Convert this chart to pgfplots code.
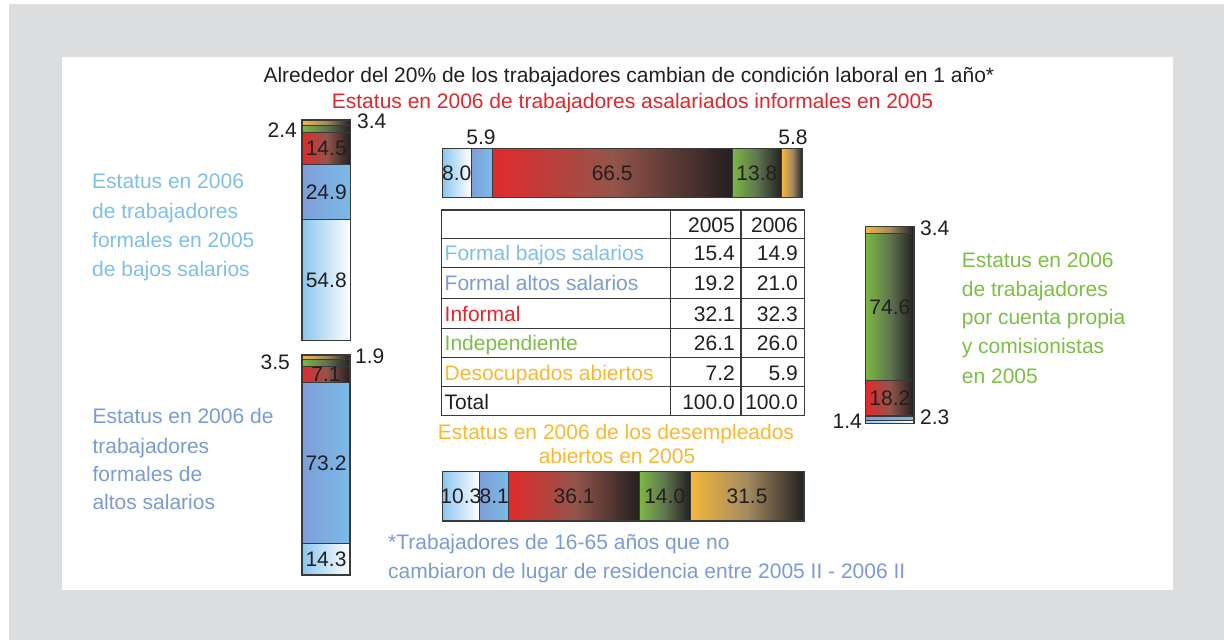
\documentclass[border=0pt]{standalone}
\usepackage{fontspec}
\setmainfont{Liberation Sans}
\usepackage{pgfplots}
\pgfplotsset{compat=1.18}
\definecolor{bg}{HTML}{DCDDDF}
\definecolor{ink}{HTML}{231F20}
\definecolor{tlb}{HTML}{7EC0EA}
\definecolor{tmb}{HTML}{7B9BD6}
\definecolor{tred}{HTML}{E3262C}
\definecolor{tgr}{HTML}{7DBF45}
\definecolor{tyl}{HTML}{F8B932}
\definecolor{blb}{HTML}{8BC6EE}
\definecolor{bmbA}{HTML}{7E9ED8}
\definecolor{bmbB}{HTML}{7BBBE8}
\definecolor{bred}{HTML}{E12A2C}
\definecolor{bredm}{HTML}{94554A}
\definecolor{bgr}{HTML}{7CB842}
\definecolor{bgrm}{HTML}{5F7550}
\definecolor{byl}{HTML}{F4B83A}
\definecolor{bylm}{HTML}{A38A60}
\definecolor{bdk}{HTML}{231F20}
\definecolor{edge}{HTML}{3A3A3A}
\newcommand\tf{\fontsize{21}{25}\selectfont}
\newcommand\tl[4]{\node[anchor=base west,text=#1,font=\tf,inner sep=0pt] at (#2,#3) {#4};}
\newcommand\tr[4]{\node[anchor=base east,text=#1,font=\tf,inner sep=0pt] at (#2,#3) {#4};}
\newcommand\tc[4]{\node[anchor=base,text=#1,font=\tf,inner sep=0pt] at (#2,#3) {#4};}
\pgfplotsset{
  segLB/.style={draw=edge, line width=1.1pt, left color=blb, right color=white},
  segMB/.style={draw=edge, line width=1.1pt, left color=bmbA, right color=bmbB},
  segRD/.style={draw=edge, line width=1.1pt, left color=bred, right color=bdk, middle color=bredm},
  segGR/.style={draw=edge, line width=1.1pt, left color=bgr, right color=bdk, middle color=bgrm},
  segYL/.style={draw=edge, line width=1.1pt, left color=byl, right color=bdk, middle color=bylm},
  lbl/.style={nodes near coords, point meta=explicit symbolic,
    every node near coord/.append style={font=\tf, text=ink, inner sep=0pt}},
  vbar/.style={scale only axis, hide axis, ybar stacked, anchor=south west,
    xmin=-0.5, xmax=0.5, ymin=0, ymax=100, bar width=1, clip=false},
  hbar/.style={scale only axis, hide axis, xbar stacked, anchor=south west,
    ymin=-0.5, ymax=0.5, xmin=0, xmax=100, bar width=1, clip=false},
}
\begin{document}
\begin{tikzpicture}[x=1pt,y=1pt]
\path[use as bounding box,fill=white] (0,0) rectangle (1224,640);
\fill[bg] (9,0) rectangle (1224,636);
\fill[white] (62,50) rectangle (1173,583);

% titles
\tl{ink}{263.3}{557.3}{Alrededor del 20\% de los trabajadores cambian de condición laboral en 1 año*}
\tl{tred}{331.7}{531.7}{Estatus en 2006 de trabajadores asalariados informales en 2005}

% left text 1
\tl{tlb}{92}{451}{Estatus en 2006}
\tl{tlb}{92}{421.7}{de trabajadores}
\tl{tlb}{92}{392.3}{formales en 2005}
\tl{tlb}{92}{363}{de bajos salarios}
% left text 2
\tl{tmb}{92.3}{216.7}{Estatus en 2006 de}
\tl{tmb}{92.3}{186.7}{trabajadores}
\tl{tmb}{92.3}{158.3}{formales de}
\tl{tmb}{92.3}{130}{altos salarios}
% right text
\tl{tgr}{961.7}{372.7}{Estatus en 2006}
\tl{tgr}{961.7}{343.3}{de trabajadores}
\tl{tgr}{961.7}{315}{por cuenta propia}
\tl{tgr}{961.7}{286.7}{y comisionistas}
\tl{tgr}{961.7}{256.7}{en 2005}
% yellow
\tc{tyl}{616}{200}{Estatus en 2006 de los desempleados}
\tc{tyl}{617}{176.7}{abiertos en 2005}
% footnote
\tl{tmb}{388}{90}{*Trabajadores de 16-65 años que no}
\tl{tmb}{388}{61.7}{cambiaron de lugar de residencia entre 2005 II - 2006 II}

% bar 1: formales bajos salarios
\begin{axis}[vbar, at={(302pt,299.3pt)}, width=48.5pt, height=220.7pt]
\addplot[segLB,lbl] coordinates {(0,54.8) [54.8]};
\addplot[segMB,lbl] coordinates {(0,24.9) [24.9]};
\addplot[segRD,lbl] coordinates {(0,14.5) [14.5]};
\addplot[segGR] coordinates {(0,3.4)};
\addplot[segYL] coordinates {(0,2.4)};
\end{axis}
\tr{ink}{297}{502.7}{2.4}
\tl{ink}{357}{511}{3.4}

% bar 2: formales altos salarios
\begin{axis}[vbar, at={(302pt,65pt)}, width=48pt, height=220pt]
\addplot[segLB,lbl] coordinates {(0,14.3) [14.3]};
\addplot[segMB,lbl] coordinates {(0,73.2) [73.2]};
\addplot[segRD,lbl] coordinates {(0,7.1) [7.1]};
\addplot[segGR] coordinates {(0,3.5)};
\addplot[segYL] coordinates {(0,1.9)};
\end{axis}
\tr{ink}{290}{270.7}{3.5}
\tl{ink}{355}{276}{1.9}

% right bar: cuenta propia
\begin{axis}[vbar, at={(865.7pt,216.7pt)}, width=48.3pt, height=196.6pt, ymax=99.9]
\addplot[segLB] coordinates {(0,1.4)};
\addplot[segMB] coordinates {(0,2.3)};
\addplot[segRD,lbl] coordinates {(0,18.2) [18.2]};
\addplot[segGR,lbl] coordinates {(0,74.6) [74.6]};
\addplot[segYL] coordinates {(0,3.4)};
\end{axis}
\tl{ink}{920}{404.3}{3.4}
\tl{ink}{920}{215.7}{2.3}
\tr{ink}{862}{211.7}{1.4}

% top horizontal bar: informales
\begin{axis}[hbar, at={(442.3pt,442.7pt)}, width=360.4pt, height=49pt]
\addplot[segLB,lbl] coordinates {(8.0,0) [8.0]};
\addplot[segMB] coordinates {(5.9,0)};
\addplot[segRD,lbl] coordinates {(66.5,0) [66.5]};
\addplot[segGR,lbl] coordinates {(13.8,0) [13.8]};
\addplot[segYL] coordinates {(5.8,0)};
\end{axis}
\tc{ink}{481}{495}{5.9}
\tc{ink}{793}{495}{5.8}

% bottom horizontal bar: desocupados
\begin{axis}[hbar, at={(442.3pt,119pt)}, width=361.7pt, height=49.3pt]
\addplot[segLB,lbl] coordinates {(10.3,0) [10.3]};
\addplot[segMB,lbl] coordinates {(8.1,0) [8.1]};
\addplot[segRD,lbl] coordinates {(36.1,0) [36.1]};
\addplot[segGR,lbl] coordinates {(14.0,0) [14.0]};
\addplot[segYL,lbl] coordinates {(31.5,0) [31.5]};
\end{axis}

% table
\begin{scope}[draw=edge, line width=1.1pt]
\draw (441.7,430) rectangle (804.3,224.3);
\foreach \yy in {401.7,372.3,341.7,311.7,282.3,253.3} \draw (441.7,\yy) -- (804.3,\yy);
\draw (670.3,430) -- (670.3,224.3);
\draw (741,430) -- (741,224.3);
\end{scope}
\tr{ink}{735}{407.8}{2005}
\tr{ink}{798}{407.8}{2006}
\tl{tlb}{444.5}{379}{Formal bajos salarios}
\tr{ink}{735}{379}{15.4}
\tr{ink}{798}{379}{14.9}
\tl{tmb}{444.5}{349}{Formal altos salarios}
\tr{ink}{735}{349}{19.2}
\tr{ink}{798}{349}{21.0}
\tl{tred}{444.5}{318.7}{Informal}
\tr{ink}{735}{318.7}{32.1}
\tr{ink}{798}{318.7}{32.3}
\tl{tgr}{444.5}{289}{Independiente}
\tr{ink}{735}{289}{26.1}
\tr{ink}{798}{289}{26.0}
\tl{tyl}{444.5}{259.8}{Desocupados abiertos}
\tr{ink}{735}{259.8}{7.2}
\tr{ink}{798}{259.8}{5.9}
\tl{ink}{444.5}{230.8}{Total}
\tr{ink}{735}{230.8}{100.0}
\tr{ink}{798}{230.8}{100.0}
\end{tikzpicture}
\end{document}
